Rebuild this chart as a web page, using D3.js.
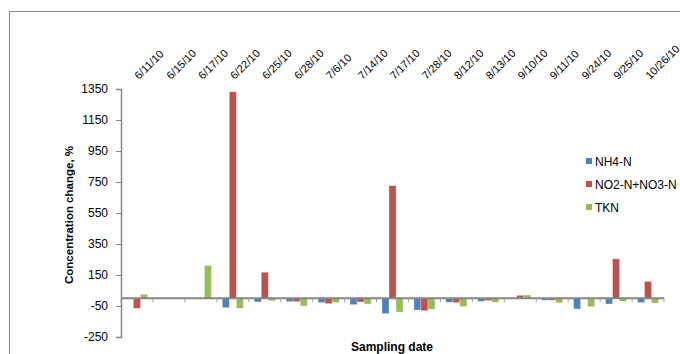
<!DOCTYPE html>
<html lang="en">
<head>
    <meta charset="UTF-8">
    <title>Concentration change by sampling date</title>
    <script src="https://d3js.org/d3.v7.min.js"></script>
    <style>
        body { margin: 0; background: #fff; font-family: Arial, "Liberation Sans", sans-serif; }
        svg { display: block; }
        .axis-title { font-weight: bold; fill: #000; }
    </style>
</head>
<body>
    <svg width="680" height="354"></svg>

    <script>
        const width = 680, height = 354;

        const dates = ["6/11/10", "6/15/10", "6/17/10", "6/22/10", "6/25/10", "6/28/10", "7/6/10", "7/14/10",
            "7/17/10", "7/28/10", "8/12/10", "8/13/10", "9/10/10", "9/11/10", "9/24/10", "9/25/10", "10/26/10"];
        const nh4 = [null, null, null, -61, -24, -22, -28, -41, -99, -76, -26, -20, 0, -13, -69, -37, -28];
        const no2no3 = [-65, null, null, 1332, 168, -22, -35, -24, 726, -80, -28, -15, 19, -13, -5, 254, 108];
        const tkn = [26, null, 211, -65, -17, -50, -28, -37, -89, -71, -54, -26, 21, -30, -54, -20, -32];
        const seriesNames = ["NH4-N", "NO2-N+NO3-N", "TKN"];
        const seriesColors = ["#4F81BD", "#C0504D", "#9BBB59"];
        const yTicks = [-250, -50, 150, 350, 550, 750, 950, 1150, 1350];

        const seriesValues = [nh4, no2no3, tkn];
        const svg = d3.select("svg");

        // outer chart frame
        svg.append("rect")
            .attr("x", 9.5).attr("y", 11.5)
            .attr("width", 700).attr("height", 400)
            .attr("fill", "none").attr("stroke", "#8c8c8c");

        const x = d3.scaleBand().domain(dates).range([121, 664]).padding(0);
        const y = d3.scaleLinear().domain([-250, 1350]).range([337, 89]);

        const bw = x.bandwidth();
        const gw = bw * 0.66;
        const xSub = d3.scaleBand().domain(seriesNames).range([(bw - gw) / 2, (bw + gw) / 2]).padding(0);

        // bars
        seriesNames.forEach((name, i) => {
            svg.append("g")
                .selectAll("rect")
                .data(dates.map((d, j) => ({ date: d, v: seriesValues[i][j] })).filter(d => d.v !== null))
                .join("rect")
                .attr("x", d => x(d.date) + xSub(name))
                .attr("width", xSub.bandwidth())
                .attr("y", d => y(Math.max(0, d.v)))
                .attr("height", d => Math.abs(y(d.v) - y(0)))
                .attr("fill", seriesColors[i])
                .attr("stroke", "#fff")
                .attr("stroke-opacity", 0.6)
                .attr("stroke-width", 0.5);
        });

        // y axis
        const yAxis = svg.append("g")
            .attr("transform", "translate(121,0)")
            .call(d3.axisLeft(y).tickValues(yTicks).tickFormat(d => String(d)).tickSize(5).tickPadding(8));
        yAxis.select(".domain").attr("stroke", "#868686").attr("stroke-width", 1.5);
        yAxis.selectAll(".tick line").attr("stroke", "#868686");
        yAxis.selectAll("text").attr("font-size", 12).attr("font-family", "Arial, 'Liberation Sans', sans-serif").attr("fill", "#000");

        // category axis along zero
        const xAxis = svg.append("g")
            .attr("transform", `translate(0,${y(0)})`);
        xAxis.append("line")
            .attr("x1", 121).attr("x2", 664)
            .attr("stroke", "#868686").attr("stroke-width", 2);
        xAxis.selectAll(".cat-tick")
            .data(dates.concat(["end"]))
            .join("line")
            .attr("class", "cat-tick")
            .attr("x1", (d, i) => 121 + i * bw).attr("x2", (d, i) => 121 + i * bw)
            .attr("y1", 0).attr("y2", 4)
            .attr("stroke", "#a0a0a0");

        // date labels above the plot
        svg.append("g")
            .selectAll("text")
            .data(dates)
            .join("text")
            .attr("transform", d => `translate(${x(d) + bw / 2 + 2},${80}) rotate(-45)`)
            .attr("font-size", 11)
            .attr("fill", "#000")
            .text(d => d);

        // axis titles
        svg.append("text")
            .attr("class", "axis-title")
            .attr("transform", "translate(73,215) rotate(-90)")
            .attr("text-anchor", "middle")
            .attr("font-size", 11.5)
            .text("Concentration change, %");

        svg.append("text")
            .attr("class", "axis-title")
            .attr("x", 392).attr("y", 351)
            .attr("text-anchor", "middle")
            .attr("font-size", 12)
            .text("Sampling date");

        // legend
        const legend = svg.append("g").attr("transform", "translate(586,158)");
        seriesNames.forEach((name, i) => {
            const row = legend.append("g").attr("transform", `translate(0,${i * 23})`);
            row.append("rect").attr("width", 6).attr("height", 6).attr("fill", seriesColors[i]);
            row.append("text").attr("x", 9).attr("y", 7.5).attr("font-size", 12).attr("fill", "#000").text(name);
        });
    </script>
</body>
</html>
